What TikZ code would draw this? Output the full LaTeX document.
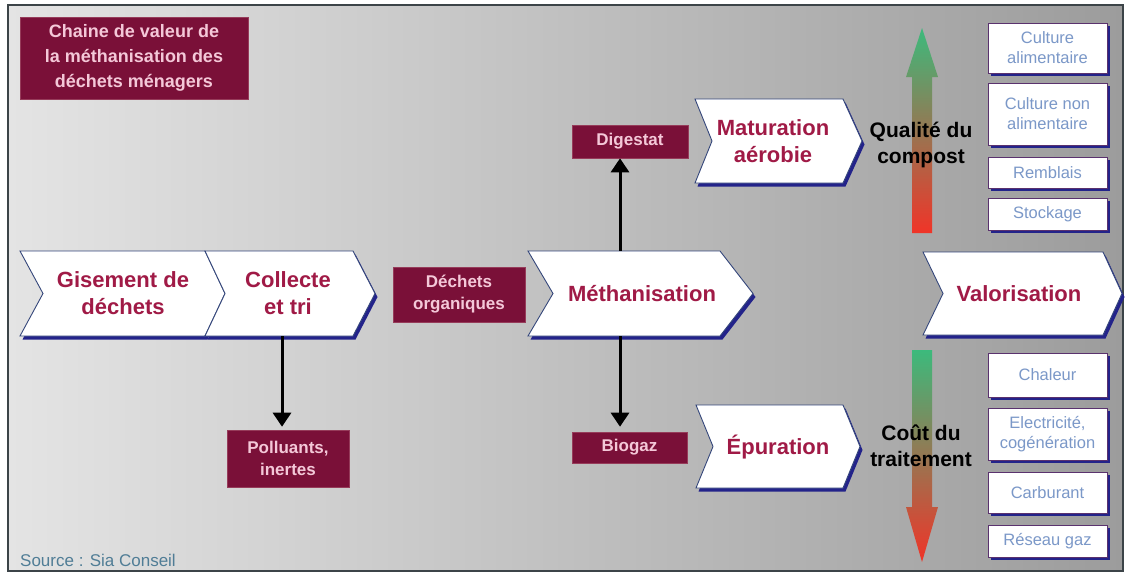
\documentclass[tikz,border=0pt]{standalone}
\usepackage{fontspec}
\setmainfont{Liberation Sans}
\usetikzlibrary{arrows.meta,calc,shadows}
\definecolor{maroon}{RGB}{122,16,56}
\definecolor{maroontext}{RGB}{244,200,216}
\definecolor{maroonedge}{RGB}{150,60,90}
\definecolor{chevred}{RGB}{160,26,70}
\definecolor{navy}{RGB}{35,35,138}
\definecolor{edgeblue}{RGB}{52,70,122}
\definecolor{optblue}{RGB}{123,152,200}
\definecolor{optedge}{RGB}{90,50,110}
\definecolor{srcblue}{RGB}{80,125,150}
\definecolor{bgL}{RGB}{228,228,228}
\definecolor{bgM}{RGB}{194,194,194}
\definecolor{bgR}{RGB}{156,156,156}
\definecolor{framecol}{RGB}{60,68,72}
\definecolor{agreen}{RGB}{60,186,124}
\definecolor{amid}{RGB}{220,135,62}
\definecolor{ared}{RGB}{240,52,40}
\newcommand\mychev[6]{%
  \fill[navy,shift={(2.5,3.5)}] (#1,#5) -- (#2,#5) -- (#3,{(#5+#6)/2}) -- (#2,#6) -- (#1,#6) -- (#4,{(#5+#6)/2}) -- cycle;
  \filldraw[fill=white,draw=edgeblue,line width=0.9] (#1,#5) -- (#2,#5) -- (#3,{(#5+#6)/2}) -- (#2,#6) -- (#1,#6) -- (#4,{(#5+#6)/2}) -- cycle;
}
\begin{document}
\begin{tikzpicture}[x=1pt,y=-1pt,
  maroonbox/.style={fill=maroon, draw=maroonedge, line width=0.6, text=maroontext,
    font=\bfseries\fontsize{17}{22}\selectfont, align=center, inner sep=0},
  chevtext/.style={text=chevred, font=\bfseries\fontsize{22}{27}\selectfont, align=center,
    inner sep=0, minimum height=85},
  optbox/.style={draw=optedge, line width=0.8, fill=white, text=optblue,
    font=\fontsize{16.5}{20}\selectfont, align=center, minimum width=119, inner sep=0,
    drop shadow={shadow xshift=3pt, shadow yshift=-3pt, fill=navy, opacity=1}},
  sidelabel/.style={text=black, font=\bfseries\fontsize{21}{26}\selectfont, align=center, inner sep=0},
  bigarrow/.style={line width=3pt, -{Triangle[length=14pt,width=18pt]}}
]
\useasboundingbox (0,0) rectangle (1131,574);
\fill[white] (0,0) rectangle (1131,574);
\shade[left color=bgL, middle color=bgM, right color=bgR] (8,5) rectangle (1123,571);
\draw[framecol, line width=1.5] (8,5) rectangle (1123,571);

% title
\node[maroonbox, minimum width=228, minimum height=82,
  font=\bfseries\fontsize{18}{25}\selectfont] (title) at (134,58)
  {Chaine de valeur de\\la méthanisation des\\déchets ménagers};

% chevrons
\mychev{20}{205}{225}{43}{251}{336}
\mychev{205}{353}{375}{225}{251}{336}
\mychev{528}{720}{753}{553}{251}{336}
\mychev{695}{843}{862}{712}{99}{183}
\mychev{696}{843}{860}{713}{405}{488}
\mychev{923}{1103}{1122}{943}{252}{335}

\node[chevtext] (gis) at (123,293.5) {Gisement de\\déchets};
\node[chevtext] (col) at (288,293.5) {Collecte\\et tri};
\node[chevtext] (meth) at (642,293.5) {Méthanisation};
\node[chevtext] (mat) at (773,141) {Maturation\\aérobie};
\node[chevtext] (epu) at (778,447) {Épuration};
\node[chevtext] (valo) at (1019,293.5) {Valorisation};

% maroon boxes
\node[maroonbox, minimum width=116, minimum height=33] (dig) at (630,141.5) {Digestat};
\node[maroonbox, minimum width=132, minimum height=55] (org) at (459,294.5) {Déchets\\organiques};
\node[maroonbox, minimum width=122, minimum height=57] (pol) at (288,458.5) {Polluants,\\inertes};
\node[maroonbox, minimum width=115, minimum height=31] (bio) at (629.5,447.5) {Biogaz};

% arrows
\coordinate (a1) at (282,0);
\coordinate (a2) at (620,0);
\draw[bigarrow, shorten >=3pt] (col.south -| a1) -- (pol.north -| a1);
\draw[bigarrow] (meth.north -| a2) -- (dig.south -| a2);
\draw[bigarrow, shorten >=5pt] (meth.south -| a2) -- (bio.north -| a2);

% gradient arrows
\shade[top color=agreen, middle color=amid, bottom color=ared]
  (922,28) -- (938,77) -- (932,77) -- (932,233) -- (912,233) -- (912,77) -- (906,77) -- cycle;
\shade[top color=agreen, middle color=amid, bottom color=ared]
  (912,350) -- (932,350) -- (932,507) -- (938,507) -- (922,562) -- (906,507) -- (912,507) -- cycle;

\node[sidelabel] (qual) at (921,145) {Qualité du\\compost};
\node[sidelabel] (cout) at (921,446) {Coût du\\traitement};

% option boxes
\node[optbox, minimum height=50] (b1) at (1047.5,48) {Culture\\alimentaire};
\node[optbox, minimum height=62] (b2) at (1047.5,114) {Culture non\\alimentaire};
\node[optbox, minimum height=31] (b3) at (1047.5,172.5) {Remblais};
\node[optbox, minimum height=32] (b4) at (1047.5,214) {Stockage};
\node[optbox, minimum height=44] (b5) at (1047.5,375) {Chaleur};
\node[optbox, minimum height=52] (b6) at (1047.5,434) {Electricité,\\cogénération};
\node[optbox, minimum height=41] (b7) at (1047.5,492.5) {Carburant};
\node[optbox, minimum height=32] (b8) at (1047.5,541) {Réseau gaz};

\node[anchor=base west, text=srcblue, font=\fontsize{17}{20}\selectfont, inner sep=0] (src) at (20,566) {Source : Sia Conseil};
\end{tikzpicture}
\end{document}
